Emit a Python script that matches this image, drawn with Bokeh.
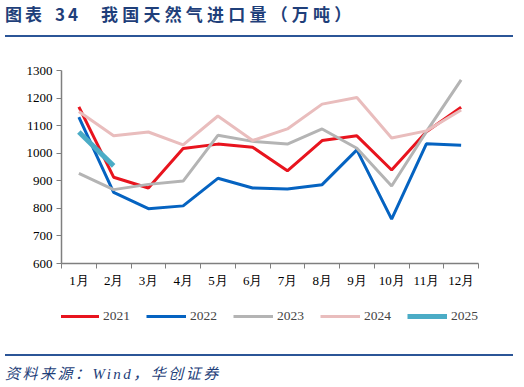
from bokeh.plotting import figure
from bokeh.models import Div, FixedTicker, Legend, LegendItem, Range1d
from bokeh.layouts import column
from bokeh.embed import file_html
from bokeh.resources import INLINE

months = ["1月", "2月", "3月", "4月", "5月", "6月", "7月", "8月", "9月", "10月", "11月", "12月"]
y2021 = [1168, 913, 874, 1017, 1033, 1022, 936, 1046, 1063, 939, 1078, 1167]
y2022 = [1131, 858, 799, 809, 909, 874, 870, 886, 1012, 761, 1034, 1029]
y2023 = [927, 868, 887, 899, 1065, 1043, 1033, 1088, 1018, 881, 1078, 1266]
y2024 = [1151, 1063, 1077, 1030, 1135, 1046, 1088, 1178, 1202, 1055, 1081, 1157]
y2025 = [1077, 954]
years = ["2021", "2022", "2023", "2024", "2025"]
yticks = [600, 700, 800, 900, 1000, 1100, 1200, 1300]

series = [y2021, y2022, y2023, y2024, y2025]
colors = ["#E8141E", "#0563C1", "#B4B4B4", "#E9BDBD", "#4BACC6"]
widths = [3, 3, 3, 3, 5]

TITLE_COLOR = "#1F3F7A"
RULE_COLOR = "#2B5597"

title = Div(
    text="图表<span style='margin-left:10px'>34</span>"
         "<span style='margin-left:20px;letter-spacing:4.2px'>我国天然气进口量（万吨）</span>",
    width=508, height=32,
    styles={"font-family": "'Noto Sans CJK SC'", "font-size": "17px", "font-weight": "bold",
            "color": TITLE_COLOR, "border-bottom": "2px solid " + RULE_COLOR,
            "line-height": "17px", "padding-top": "0px", "box-sizing": "border-box",
            "letter-spacing": "3px", "white-space": "nowrap"},
)

xs = list(range(1, 13))

p = figure(width=508, height=257, output_backend="svg", toolbar_location=None,
           x_range=Range1d(0.5, 12.5), y_range=Range1d(600, 1300),
           min_border_left=61, min_border_right=30, min_border_top=28, min_border_bottom=36)
p.outline_line_color = None
p.grid.visible = False

for ys, c, w in zip(series, colors, widths):
    p.line(xs[:len(ys)], ys, line_color=c, line_width=w)

p.xaxis.ticker = FixedTicker(ticks=xs, minor_ticks=[x + 0.5 for x in range(0, 13)])
p.xaxis.major_label_overrides = {i + 1: m for i, m in enumerate(months)}
p.xaxis.major_tick_out = 0
p.xaxis.major_tick_in = 0
p.xaxis.minor_tick_out = 5
p.xaxis.minor_tick_in = 0
p.yaxis.ticker = FixedTicker(ticks=yticks)
p.yaxis.minor_tick_out = 0
p.yaxis.minor_tick_in = 0
p.yaxis.major_tick_out = 5
p.yaxis.major_tick_in = 0
for ax in [p.xaxis, p.yaxis]:
    ax.axis_line_color = "#7F7F7F"
    ax.major_tick_line_color = "#7F7F7F"
    ax.minor_tick_line_color = "#7F7F7F"
    ax.axis_line_width = 1.5
    ax.major_label_text_font = "Liberation Serif"
    ax.major_label_text_font_size = "13px"
    ax.major_label_text_color = "#000000"
    ax.major_label_standoff = 4

# legend figure (lines drawn out of its visible range; only the legend shows)
lg = figure(width=508, height=50, output_backend="svg", toolbar_location=None,
            x_range=Range1d(0.5, 12.5), y_range=Range1d(0, 1),
            x_axis_location=None, y_axis_location=None,
            min_border_left=0, min_border_right=0, min_border_top=0, min_border_bottom=0)
lg.grid.visible = False
lg.outline_line_color = None
items = []
for name, ys, c, w in zip(years, series, colors, widths):
    r = lg.line(xs[:len(ys)], ys, line_color=c, line_width=w)
    items.append(LegendItem(label=name, renderers=[r]))
legend = Legend(items=items, orientation="horizontal", location=(-2, 25),
                glyph_width=40, glyph_height=10, label_standoff=4, spacing=16,
                label_text_font="Liberation Serif", label_text_font_size="13.5px",
                border_line_color=None, background_fill_alpha=0, padding=2, margin=0)
lg.add_layout(legend)

source = Div(
    text="资料来源：<span style='font-family:Liberation Serif'>Wind</span>，华创证券",
    width=508, height=29,
    styles={"font-family": "'Noto Sans CJK SC'", "font-size": "15px", "font-style": "italic",
            "color": TITLE_COLOR, "border-top": "2px solid " + RULE_COLOR,
            "line-height": "18px", "padding-top": "8px", "box-sizing": "border-box",
            "letter-spacing": "2.5px", "white-space": "nowrap"},
)

layout = column(title, p, lg, source, spacing=0)
open("out.html", "w").write(file_html(layout, INLINE))
